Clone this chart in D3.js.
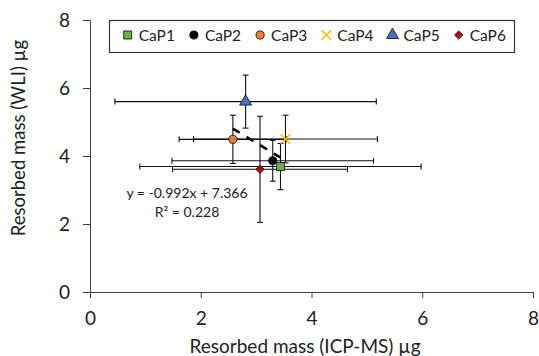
<!DOCTYPE html>
<html lang="en">
  <head>
    <meta charset="UTF-8" />
    <title>Resorbed mass</title>
    <script src="https://d3js.org/d3.v7.min.js"></script>
    <style>
      body {
        margin: 0;
        background: white;
      }
      text {
        font-family: Lato, "Open Sans", sans-serif;
        fill: #222;
      }
    </style>
  </head>
  <body>
    <script>
      // values
      const series = ["CaP1", "CaP2", "CaP3", "CaP4", "CaP5", "CaP6"];
      const xVals = [3.44, 3.3, 2.58, 3.53, 2.81, 3.07];
      const yVals = [3.69, 3.86, 4.49, 4.5, 5.6, 3.61];
      const xErr = [2.54, 1.82, 0.97, 1.66, 2.36, 1.58];
      const yErr = [0.68, 0.6, 0.71, 0.7, 0.78, 1.56];
      const xTicks = [0, 2, 4, 6, 8];
      const yTicks = [0, 2, 4, 6, 8];
      const slope = -0.992;
      const intercept = 7.366;
      const eqLabel = "y = -0.992x + 7.366";
      const r2Label = "R\u00b2 = 0.228";

      const colors = ["#70ad47", "#000000", "#ed7d31", "#ffc000", "#4472c4", "#c00000"];
      const shapes = ["square", "circle", "circle", "x", "triangle", "diamond"];

      const width = 539;
      const height = 356;
      const svg = d3
        .select("body")
        .append("svg")
        .attr("width", width)
        .attr("height", height);

      const x = d3.scaleLinear().domain([0, 8]).range([90, 533]);
      const y = d3.scaleLinear().domain([0, 8]).range([292, 20]);

      const data = series.map(function (s, i) {
        return { name: s, x: xVals[i], y: yVals[i], ex: xErr[i], ey: yErr[i], i: i };
      });

      // axes
      const xAxis = svg
        .append("g")
        .attr("transform", "translate(0," + y(0) + ")")
        .call(d3.axisBottom(x).tickValues(xTicks).tickSize(6).tickSizeOuter(0).tickPadding(14));
      const yAxis = svg
        .append("g")
        .attr("transform", "translate(" + x(0) + ",0)")
        .call(d3.axisLeft(y).tickValues(yTicks).tickSize(7).tickSizeOuter(0).tickPadding(13));
      [xAxis, yAxis].forEach(function (a) {
        a.select(".domain").attr("stroke", "#404040");
        a.selectAll(".tick line").attr("stroke", "#404040");
        a.selectAll(".tick text")
          .style("font-family", "Lato, sans-serif")
          .style("font-size", "19px")
          .attr("fill", "#222");
      });
      yAxis.selectAll(".tick text").attr("dy", "0.36em");

      svg
        .append("text")
        .attr("x", 305)
        .attr("y", 353)
        .attr("text-anchor", "middle")
        .style("font-size", "19px")
        .text("Resorbed mass (ICP-MS) \u00b5g");
      svg
        .append("text")
        .attr("transform", "translate(25,138) rotate(-90)")
        .attr("text-anchor", "middle")
        .style("font-size", "18.5px")
        .text("Resorbed mass (WLI) \u00b5g");

      // error bars
      const cap = 3;
      const eb = svg.append("g").attr("stroke", "#111").attr("stroke-width", 1.1).attr("fill", "none");
      data.forEach(function (d) {
        const g = eb.append("g");
        const x0 = x(d.x - d.ex), x1 = x(d.x + d.ex), yy = y(d.y);
        const y0 = y(d.y - d.ey), y1 = y(d.y + d.ey), xx = x(d.x);
        g.append("line").attr("x1", x0).attr("x2", x1).attr("y1", yy).attr("y2", yy);
        g.append("line").attr("x1", x0).attr("x2", x0).attr("y1", yy - cap).attr("y2", yy + cap);
        g.append("line").attr("x1", x1).attr("x2", x1).attr("y1", yy - cap).attr("y2", yy + cap);
        g.append("line").attr("x1", xx).attr("x2", xx).attr("y1", y0).attr("y2", y1);
        g.append("line").attr("x1", xx - cap).attr("x2", xx + cap).attr("y1", y0).attr("y2", y0);
        g.append("line").attr("x1", xx - cap).attr("x2", xx + cap).attr("y1", y1).attr("y2", y1);
      });

      // trendline over data range
      const xr = d3.extent(xVals);
      svg
        .append("line")
        .attr("x1", x(xr[0]))
        .attr("y1", y(slope * xr[0] + intercept))
        .attr("x2", x(xr[1]))
        .attr("y2", y(slope * xr[1] + intercept))
        .attr("stroke", "#000")
        .attr("stroke-width", 2.6)
        .attr("stroke-dasharray", "8,8");

      svg
        .append("text")
        .attr("x", 187)
        .attr("y", 198)
        .attr("text-anchor", "middle")
        .style("font-size", "14px")
        .text(eqLabel);
      svg
        .append("text")
        .attr("x", 187)
        .attr("y", 216.5)
        .attr("text-anchor", "middle")
        .style("font-size", "14px")
        .text(r2Label);

      // markers
      const timesSym = d3.symbolTimes || d3.symbolX;
      function drawMarker(sel, i, cx, cy) {
        const shape = shapes[i];
        let p;
        if (shape === "square") {
          p = sel.append("path").attr("d", d3.symbol(d3.symbolSquare, 64)());
        } else if (shape === "circle") {
          p = sel.append("path").attr("d", d3.symbol(d3.symbolCircle, 52)());
        } else if (shape === "triangle") {
          p = sel.append("path").attr("d", d3.symbol(d3.symbolTriangle, 62)());
        } else if (shape === "diamond") {
          p = sel.append("path").attr("d", d3.symbol(d3.symbolSquare, 34)());
        } else {
          p = sel.append("path").attr("d", d3.symbol(timesSym, 60)());
        }
        let tr = "translate(" + cx + "," + cy + ")";
        if (shape === "diamond") tr += " rotate(45)";
        p.attr("transform", tr);
        if (shape === "x") {
          p.attr("fill", "none").attr("stroke", colors[i]).attr("stroke-width", 1.6);
        } else {
          p.attr("fill", colors[i]).attr("stroke", "#1a1a1a").attr("stroke-width", 0.9);
        }
        return p;
      }
      const mk = svg.append("g");
      data.forEach(function (d) {
        drawMarker(mk, d.i, x(d.x), y(d.y));
      });

      // legend
      const lg = svg.append("g");
      lg.append("rect")
        .attr("x", 109.5)
        .attr("y", 20.5)
        .attr("width", 405)
        .attr("height", 32)
        .attr("fill", "white")
        .attr("stroke", "#333")
        .attr("stroke-width", 1.2);
      let lx = 127.7;
      const ly = 35;
      series.forEach(function (s, i) {
        drawMarker(lg, i, lx, ly);
        const t = lg
          .append("text")
          .attr("x", lx + 11)
          .attr("y", ly + 5.5)
          .style("font-size", "15.5px")
          .text(s);
        lx = lx + 11 + t.node().getComputedTextLength() + 19;
      });
    </script>
  </body>
</html>
